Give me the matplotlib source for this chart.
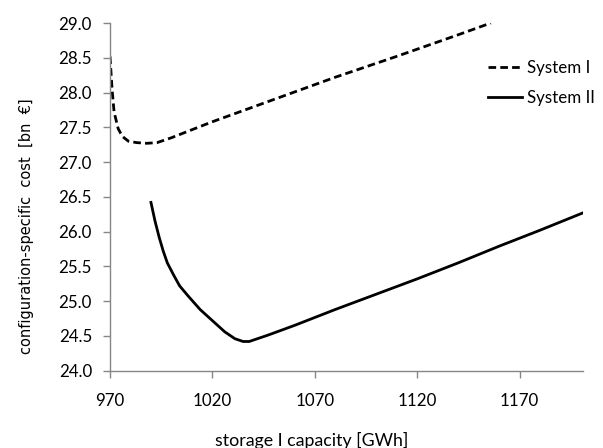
import numpy as np
import matplotlib
matplotlib.use('Agg')
import matplotlib.pyplot as plt

# storage capacity [GWh] vs cost [bn EUR]
sys1_x = [970, 971, 972, 974, 976, 979, 983, 988, 993, 1000, 1020, 1050, 1080, 1110, 1140, 1156]
sys1_y = [28.52, 28.05, 27.72, 27.48, 27.37, 27.30, 27.28, 27.27, 27.28, 27.35, 27.58, 27.90, 28.22, 28.52, 28.83, 29.00]

sys2_x = [990, 992, 994, 996, 998, 1001, 1004, 1008, 1014, 1020, 1026, 1031, 1035, 1038, 1042, 1047,
          1060, 1080, 1100, 1120, 1140, 1160, 1180, 1201]
sys2_y = [26.42, 26.15, 25.92, 25.72, 25.55, 25.38, 25.22, 25.08, 24.88, 24.72, 24.56, 24.46, 24.42, 24.42, 24.46, 24.51,
          24.65, 24.88, 25.10, 25.32, 25.55, 25.79, 26.02, 26.27]

xticks = [970, 1020, 1070, 1120, 1170]
yticks = np.arange(24.0, 29.01, 0.5)

plt.rcParams['lines.scale_dashes'] = False
font = 'Lato'
fs = 12.2

fig = plt.figure(figsize=(6.03, 4.48), dpi=100)
ax = fig.add_axes([110/603, 1 - 370.7/448, (583 - 110)/603, (370.7 - 23)/448])

ax.plot(sys1_x, sys1_y, color='black', lw=2.0, dashes=(5.5, 3), label='System I',
        solid_joinstyle='round', dash_capstyle='butt')
ax.plot(sys2_x, sys2_y, color='black', lw=2.0, label='System II', solid_joinstyle='round')

ax.set_xlim(970, 1201)
ax.set_ylim(24, 29)
ax.set_xticks(xticks)
ax.set_yticks(yticks)
ax.set_xticklabels([str(t) for t in xticks], fontfamily=font, fontsize=fs)
ax.set_yticklabels(['%.1f' % t for t in yticks], fontfamily=font, fontsize=fs)

for s in ['top', 'right']:
    ax.spines[s].set_visible(False)
for s in ['left', 'bottom']:
    ax.spines[s].set_color('#868686')
    ax.spines[s].set_linewidth(1.0)
ax.tick_params(axis='both', direction='out', length=5, width=1.0, color='#868686')
ax.tick_params(axis='y', pad=8)
ax.tick_params(axis='x', pad=11)

fig.text(312/603, 1 - 440/448, 'storage I capacity [GWh]', ha='center', va='center',
         fontfamily=font, fontsize=12.8)
fig.text(27/603, 1 - 226/448, 'configuration-specific  cost  [bn  €]', ha='center', va='center',
         rotation=90, fontfamily='DejaVu Sans', fontsize=10.5)

leg = fig.legend(loc='center left', bbox_to_anchor=(488/603, 1 - 83/448), frameon=False,
                 prop={'family': font, 'size': fs}, handlelength=2.0, handletextpad=0.3,
                 labelspacing=0.8, borderpad=0, borderaxespad=0)

fig.savefig('out.png', dpi=100)
